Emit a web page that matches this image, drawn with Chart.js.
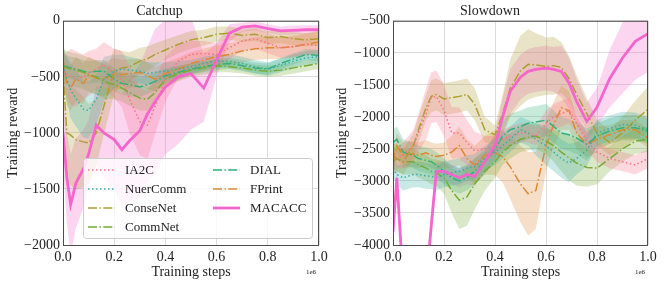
<!DOCTYPE html>
<html>
<head>
<meta charset="utf-8">
<script src="https://cdn.jsdelivr.net/npm/chart.js@4.4.1/dist/chart.umd.min.js"></script>
<style>
  html, body { margin: 0; padding: 0; background: #fff; }
  #wrap { position: relative; width: 664px; height: 285px; }
  .panel { position: absolute; top: 0; width: 332px; height: 285px; }
</style>
</head>
<body>
<div id="wrap">
  <div class="panel" style="left:0"><canvas id="graphique-catchup" width="332" height="285"></canvas></div>
  <div class="panel" style="left:332px"><canvas id="graphique-slowdown" width="332" height="285"></canvas></div>
</div>
<script>
// *** data ***
const seriesNames = ["IA2C", "NuerComm", "ConseNet", "CommNet", "DIAL", "FPrint", "MACACC"];
const seriesColors = ["#f77189", "#36ada4", "#ae9d31", "#77ab31", "#33b07a", "#dc8932", "#f565cc"];

const xTicks = [0, 0.2, 0.4, 0.6, 0.8, 1.0];
const catchupYTicks = [0, -500, -1000, -1500, -2000];
const slowdownYTicks = [-500, -1000, -1500, -2000, -2500, -3000, -3500, -4000];

// Catchup (x in units of 1e6 steps)
const catchupSteps = [0, 0.015, 0.03, 0.05, 0.08, 0.1, 0.13, 0.16, 0.2, 0.23, 0.26, 0.3, 0.33, 0.36, 0.4, 0.45, 0.5, 0.55, 0.6, 0.65, 0.7, 0.75, 0.8, 0.85, 0.9, 0.95, 1.0];
const catchupIA2C = [-450, -480, -500, -520, -500, -470, -430, -390, -470, -520, -700, -900, -930, -760, -520, -360, -300, -290, -300, -240, -180, -160, -200, -240, -230, -210, -220];
const catchupNuerComm = [-400, -520, -620, -690, -790, -800, -700, -520, -450, -430, -440, -450, -470, -460, -450, -430, -410, -380, -360, -360, -380, -410, -430, -400, -360, -330, -320];
const catchupConseNet = [-450, -1000, -1020, -1060, -1080, -1090, -1000, -760, -450, -420, -410, -360, -340, -300, -260, -210, -170, -150, -120, -110, -130, -120, -150, -140, -160, -170, -160];
const catchupCommNet = [-400, -420, -430, -440, -460, -480, -500, -540, -570, -600, -640, -690, -700, -640, -520, -470, -440, -420, -400, -410, -420, -440, -450, -440, -420, -400, -380];
const catchupDIAL = [-400, -410, -420, -430, -450, -460, -450, -450, -520, -560, -570, -590, -570, -540, -490, -460, -430, -410, -390, -380, -400, -420, -430, -380, -340, -300, -310];
const catchupFPrint = [-350, -550, -600, -520, -560, -480, -510, -520, -470, -480, -470, -460, -490, -520, -470, -430, -380, -350, -320, -300, -270, -250, -240, -240, -230, -210, -190];
const catchupMACACC = [-1000, -1400, -1640, -1450, -1320, -1190, -930, -1000, -1060, -1150, -1070, -980, -830, -720, -590, -500, -470, -600, -350, -110, -57, -45, -70, -90, -85, -80, -80];

// half-width of the shaded bands
const catchupIA2CBand = [150, 200, 250, 250, 200, 200, 180, 200, 220, 250, 300, 300, 300, 250, 200, 150, 120, 110, 100, 100, 90, 90, 90, 90, 90, 90, 90];
const catchupNuerCommBand = [150, 200, 250, 250, 250, 250, 220, 200, 150, 130, 120, 110, 100, 90, 80, 70, 60, 60, 60, 60, 60, 60, 60, 60, 60, 60, 60];
const catchupConseNetBand = [200, 400, 450, 450, 400, 350, 300, 250, 200, 150, 130, 120, 110, 100, 90, 80, 80, 70, 70, 60, 60, 60, 60, 60, 60, 60, 60];
const catchupCommNetBand = [150, 150, 150, 150, 150, 150, 150, 150, 130, 120, 120, 110, 100, 90, 80, 70, 60, 60, 60, 50, 50, 50, 50, 50, 50, 50, 50];
const catchupDIALBand = [100, 100, 100, 100, 100, 100, 100, 100, 100, 100, 100, 90, 80, 80, 70, 60, 50, 50, 50, 50, 50, 50, 50, 50, 50, 50, 50];
const catchupFPrintBand = [150, 200, 200, 200, 180, 160, 150, 150, 140, 130, 130, 120, 120, 110, 100, 100, 100, 100, 100, 100, 100, 100, 100, 100, 100, 100, 100];
const catchupMACACCBand = [300, 400, 450, 400, 350, 300, 350, 400, 450, 500, 550, 600, 600, 650, 600, 600, 500, 300, 150, 80, 40, 40, 40, 40, 40, 40, 40];

// Slowdown
const slowdownSteps = [0, 0.015, 0.04, 0.08, 0.1, 0.13, 0.15, 0.17, 0.2, 0.23, 0.26, 0.29, 0.32, 0.36, 0.4, 0.43, 0.46, 0.5, 0.53, 0.56, 0.6, 0.63, 0.66, 0.69, 0.72, 0.76, 0.8, 0.85, 0.9, 0.95, 1.0];
const slowdownIA2C = [-2700, -2650, -2600, -2450, -2250, -1950, -1700, -1680, -1900, -2250, -2250, -2400, -2530, -2500, -2450, -2350, -2300, -2250, -2250, -2300, -2100, -2000, -1950, -1900, -2100, -2380, -2550, -2650, -2700, -2750, -2650];
const slowdownNuerComm = [-2800, -2900, -2950, -2900, -2900, -2920, -2930, -2950, -2900, -2870, -2850, -2800, -2780, -2650, -2550, -2450, -2350, -2200, -2250, -2350, -2450, -2550, -2650, -2720, -2650, -2520, -2250, -2180, -2120, -2130, -2200];
const slowdownConseNet = [-2600, -2650, -2700, -2450, -2200, -1850, -1680, -1650, -1720, -1700, -1680, -1650, -1800, -2200, -2280, -1950, -1550, -1280, -1180, -1190, -1210, -1200, -1230, -1400, -1650, -1950, -2250, -2400, -2250, -2050, -1880];
const slowdownCommNet = [-2700, -2650, -2700, -2700, -2750, -2800, -2850, -2870, -2950, -3150, -3300, -3250, -3050, -2850, -2700, -2550, -2450, -2350, -2320, -2300, -2380, -2450, -2550, -2640, -2720, -2790, -2800, -2650, -2500, -2380, -2350];
const slowdownDIAL = [-2400, -2350, -2550, -2600, -2650, -2680, -2700, -2750, -2850, -2950, -3000, -2950, -2850, -2700, -2500, -2300, -2200, -2150, -2100, -2080, -2050, -2150, -2250, -2280, -2330, -2430, -2300, -2220, -2170, -2170, -2220];
const slowdownFPrint = [-2700, -2450, -2600, -2580, -2600, -2560, -2600, -2620, -2600, -2550, -2450, -2650, -2750, -2600, -2560, -2620, -2780, -3050, -3200, -3150, -2450, -2120, -1860, -1900, -2250, -2430, -2350, -2280, -2200, -2200, -2330];
const slowdownMACACC = [-3800, -2950, -4600, -4800, -4800, -4600, -3700, -2850, -2850, -2900, -2950, -2900, -2930, -2700, -2450, -2000, -1600, -1380, -1290, -1260, -1240, -1260, -1290, -1470, -1760, -2070, -1850, -1400, -1080, -820, -700];

const slowdownIA2CBand = [150, 150, 200, 250, 300, 400, 400, 400, 400, 400, 400, 350, 300, 200, 150, 150, 150, 150, 150, 150, 200, 200, 200, 200, 150, 150, 150, 150, 150, 150, 150];
const slowdownNuerCommBand = [150, 150, 200, 200, 200, 200, 200, 200, 200, 200, 200, 200, 200, 200, 200, 200, 200, 200, 200, 250, 300, 300, 300, 300, 250, 250, 200, 200, 200, 200, 200];
const slowdownConseNetBand = [200, 200, 200, 200, 200, 200, 250, 250, 250, 250, 250, 250, 250, 200, 150, 300, 450, 550, 550, 500, 450, 450, 400, 350, 300, 250, 200, 200, 250, 300, 350];
const slowdownCommNetBand = [200, 200, 200, 200, 200, 200, 200, 200, 250, 350, 450, 450, 400, 300, 250, 200, 200, 200, 200, 200, 200, 250, 300, 350, 350, 300, 250, 200, 200, 200, 200];
const slowdownDIALBand = [200, 200, 200, 200, 200, 200, 200, 200, 200, 200, 200, 200, 200, 200, 200, 250, 250, 250, 250, 250, 250, 250, 250, 250, 250, 250, 200, 200, 200, 200, 200];
const slowdownFPrintBand = [200, 200, 200, 200, 200, 200, 200, 200, 200, 250, 300, 300, 300, 300, 350, 400, 500, 600, 650, 600, 400, 350, 350, 300, 250, 200, 200, 150, 150, 150, 150];
const slowdownMACACCBand = [150, 150, 200, 200, 200, 200, 200, 150, 150, 150, 150, 150, 150, 150, 200, 300, 350, 350, 350, 350, 350, 350, 400, 400, 350, 300, 300, 450, 550, 600, 600];

// *** styles ***
const fontFamily = "'Liberation Serif', 'Times New Roman', serif";
const textColor = "#222";
const dotted = [1.5, 2.5];
const dashDot = [9, 2.4, 1.5, 2.4];
const lineDashes = [dotted, dotted, dashDot, dashDot, dashDot, dashDot, []];
const lineWidths = [1.5, 1.5, 1.5, 1.5, 1.5, 1.5, 2.8];

function rgba(hex, a) {
    const n = parseInt(hex.slice(1), 16);
    return `rgba(${(n >> 16) & 255}, ${(n >> 8) & 255}, ${n & 255}, ${a})`;
}

function minusSign(v) {
    return v < 0 ? "\u2212" + Math.abs(v) : String(v);
}

function buildDatasets(steps, means, bands) {
    const datasets = [];
    // shaded bands first
    for (let i = 0; i < means.length; i++) {
        datasets.push({
            data: steps.map((x, j) => ({ x: x, y: means[i][j] - bands[i][j] })),
            borderWidth: 0, pointRadius: 0, fill: false, order: 5
        });
        datasets.push({
            data: steps.map((x, j) => ({ x: x, y: means[i][j] + bands[i][j] })),
            borderWidth: 0, pointRadius: 0, fill: "-1", order: 5,
            backgroundColor: rgba(seriesColors[i], 0.27)
        });
    }
    // mean lines on top
    for (let i = 0; i < means.length; i++) {
        datasets.push({
            label: seriesNames[i],
            data: steps.map((x, j) => ({ x: x, y: means[i][j] })),
            borderColor: seriesColors[i],
            borderWidth: lineWidths[i],
            borderDash: lineDashes[i],
            borderCapStyle: "butt",
            pointRadius: 0, fill: false, tension: 0,
            order: i === 6 ? 0 : 1
        });
    }
    return datasets;
}

// frame around the plot + the "1e6" offset text
const framePlugin = {
    id: "frame",
    afterDraw(chart) {
        const ctx = chart.ctx;
        const a = chart.chartArea;
        ctx.save();
        ctx.strokeStyle = "#4d4d4d";
        ctx.lineWidth = 1;
        ctx.strokeRect(a.left + 0.5, a.top + 0.5, a.right - a.left - 1, a.bottom - a.top);
        ctx.fillStyle = textColor;
        ctx.font = "7px " + fontFamily;
        ctx.textAlign = "right";
        ctx.textBaseline = "middle";
        ctx.fillText("1e6", a.right - 3, 272);
        ctx.restore();
    }
};

// legend in two columns (column-major, like matplotlib ncol=2)
const legendPlugin = {
    id: "legendeCatchup",
    afterDraw(chart) {
        const ctx = chart.ctx;
        ctx.save();
        ctx.fillStyle = "rgba(255,255,255,0.8)";
        ctx.strokeStyle = "#cccccc";
        ctx.lineWidth = 1;
        ctx.beginPath();
        ctx.roundRect(83.5, 158.5, 229, 80, 3);
        ctx.fill();
        ctx.stroke();
        ctx.font = "13px " + fontFamily;
        ctx.textBaseline = "middle";
        ctx.textAlign = "left";
        const rowsY = [170, 189, 208, 227];
        for (let i = 0; i < seriesNames.length; i++) {
            const col = i < 4 ? 0 : 1;
            const row = i < 4 ? i : i - 4;
            const x0 = col === 0 ? 88 : 213;
            const y = rowsY[row];
            ctx.strokeStyle = seriesColors[i];
            ctx.lineWidth = lineWidths[i];
            ctx.setLineDash(lineDashes[i]);
            ctx.lineCap = "butt";
            ctx.beginPath();
            ctx.moveTo(x0, y);
            ctx.lineTo(x0 + 27, y);
            ctx.stroke();
            ctx.setLineDash([]);
            ctx.fillStyle = textColor;
            ctx.fillText(seriesNames[i], x0 + 37, y + 1);
        }
        ctx.restore();
    }
};

function dessinerGraphique(canvasId, titre, steps, means, bands, yTicks, axisWidth, padding, titlePad, extraPlugins) {
    const yMin = Math.min(...yTicks);
    const yMax = Math.max(...yTicks);
    const config = {
        type: "line",
        data: { datasets: buildDatasets(steps, means, bands) },
        options: {
            responsive: false,
            animation: false,
            layout: { padding: padding },
            plugins: {
                legend: { display: false },
                tooltip: { enabled: false },
                title: {
                    display: true, text: titre, color: textColor,
                    font: { family: fontFamily, size: 14, weight: "normal" },
                    padding: { top: 3, bottom: 1 }
                }
            },
            scales: {
                x: {
                    type: "linear", min: 0, max: 1,
                    afterBuildTicks: (scale) => { scale.ticks = xTicks.map(v => ({ value: v })); },
                    afterFit: (scale) => { scale.height = 40; },
                    grid: { color: "#dcdcdc", lineWidth: 1, drawTicks: false },
                    border: { display: false },
                    ticks: {
                        color: textColor, padding: 4, maxRotation: 0,
                        font: { family: fontFamily, size: 14 },
                        callback: (v) => Number(v).toFixed(1)
                    },
                    title: {
                        display: true, text: "Training steps", color: textColor,
                        font: { family: fontFamily, size: 14 },
                        padding: { top: 0, bottom: 4 }
                    }
                },
                y: {
                    min: yMin, max: yMax,
                    afterBuildTicks: (scale) => { scale.ticks = yTicks.map(v => ({ value: v })); },
                    afterFit: (scale) => { scale.width = axisWidth; },
                    grid: { color: "#dcdcdc", lineWidth: 1, drawTicks: false },
                    border: { display: false },
                    ticks: {
                        color: textColor, padding: 3,
                        font: { family: fontFamily, size: 14 },
                        callback: (v) => minusSign(v)
                    },
                    title: {
                        display: true, text: "Training reward", color: textColor,
                        font: { family: fontFamily, size: 14 },
                        padding: { top: titlePad, bottom: 0 }
                    }
                }
            }
        },
        plugins: [framePlugin].concat(extraPlugins)
    };
    new Chart(document.querySelector(canvasId), config);
}

dessinerGraphique(
    "#graphique-catchup", "Catchup", catchupSteps,
    [catchupIA2C, catchupNuerComm, catchupConseNet, catchupCommNet, catchupDIAL, catchupFPrint, catchupMACACC],
    [catchupIA2CBand, catchupNuerCommBand, catchupConseNetBand, catchupCommNetBand, catchupDIALBand, catchupFPrintBand, catchupMACACCBand],
    catchupYTicks, 63, { left: 0, right: 13, top: 0, bottom: 0 }, 5, [legendPlugin]
);

dessinerGraphique(
    "#graphique-slowdown", "Slowdown", slowdownSteps,
    [slowdownIA2C, slowdownNuerComm, slowdownConseNet, slowdownCommNet, slowdownDIAL, slowdownFPrint, slowdownMACACC],
    [slowdownIA2CBand, slowdownNuerCommBand, slowdownConseNetBand, slowdownCommNetBand, slowdownDIALBand, slowdownFPrintBand, slowdownMACACCBand],
    slowdownYTicks, 61, { left: 0, right: 16, top: 0, bottom: 0 }, 2, []
);
</script>
</body>
</html>
